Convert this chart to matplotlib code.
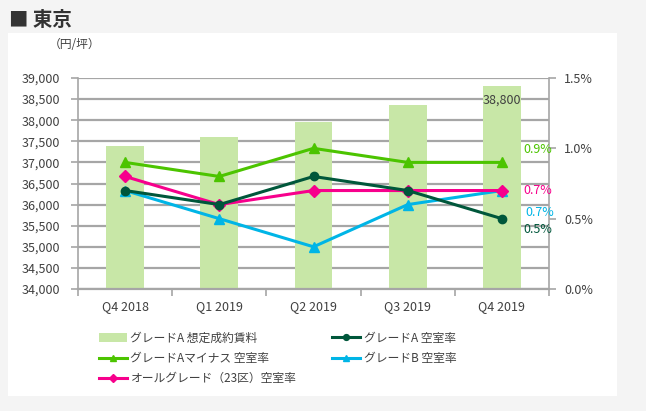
import matplotlib.pyplot as plt
from matplotlib.patches import Rectangle

plt.rcParams['font.family'] = ['Noto Sans CJK JP', 'DejaVu Sans']

# data
quarters = ["Q4 2018", "Q1 2019", "Q2 2019", "Q3 2019", "Q4 2019"]
rent_a = [37400, 37600, 37950, 38350, 38800]
vac_a = [0.7, 0.6, 0.8, 0.7, 0.5]
vac_a_minus = [0.9, 0.8, 1.0, 0.9, 0.9]
vac_b = [0.7, 0.5, 0.3, 0.6, 0.7]
vac_all = [0.8, 0.6, 0.7, 0.7, 0.7]

c_bar = "#c8e7a7"
c_a = "#00573b"
c_am = "#4cc400"
c_b = "#00b5e6"
c_all = "#f7008c"
c_grid = "#a6a6a6"
c_text = "#404040"

fig = plt.figure(figsize=(6.46, 4.11), dpi=100)
fig.patch.set_facecolor("#f4f4f4")

# white panel
fig.patches.append(Rectangle((8 / 646, 1 - 396 / 411), 609 / 646, 363 / 411,
                             transform=fig.transFigure, facecolor="white",
                             edgecolor="none", zorder=-5))

fig.text(9 / 646, 1 - 20 / 411, "■ 東京", fontsize=14, fontweight="bold",
         color="#333333", va="center", ha="left")
fig.text(75 / 646, 1 - 44 / 411, "（円/坪）", fontsize=8.5, color=c_text,
         va="center", ha="center")

ax = fig.add_axes([78 / 646, 1 - 289 / 411, 471 / 646, 211 / 411])
ax.set_facecolor("none")
x = list(range(len(quarters)))

bars = ax.bar(x, rent_a, width=0.4, color=c_bar, zorder=2,
              label="グレードA 想定成約賃料")
ax.set_ylim(34000, 39000)
ax.set_yticks(range(34000, 39001, 500))
ax.set_yticklabels([f"{v:,}" for v in range(34000, 39001, 500)])
ax.set_xlim(-0.5, 4.5)
ax.set_xticks(x)
ax.set_xticklabels(quarters)
ax.set_xticks([i - 0.5 for i in range(6)], minor=True)
ax.tick_params(axis="x", which="major", length=0, pad=8)
ax.tick_params(axis="x", which="minor", length=5, color=c_grid, width=1.2)
ax.tick_params(axis="y", length=5, color=c_grid, width=1.2, pad=8)
ax.tick_params(labelsize=9, labelcolor=c_text)
ax.grid(axis="y", color=c_grid, linewidth=1.6, zorder=1)
ax.set_axisbelow(True)
for s in ["top", "right"]:
    ax.spines[s].set_visible(False)
ax.spines["left"].set_color(c_grid)
ax.spines["left"].set_linewidth(1.2)
ax.spines["bottom"].set_color(c_grid)
ax.spines["bottom"].set_linewidth(1.6)

ax.annotate(f"{rent_a[-1]:,}", (4, rent_a[-1]), xytext=(0, -10),
            textcoords="offset points", ha="center", va="center",
            fontsize=9, color=c_text, zorder=5)

ax2 = ax.twinx()
ax2.set_ylim(0, 1.5)
ax2.set_yticks([0, 0.5, 1.0, 1.5])
ax2.set_yticklabels(["0.0%", "0.5%", "1.0%", "1.5%"])
ax2.tick_params(axis="y", length=5, color=c_grid, width=1.2, labelsize=9,
                labelcolor=c_text, pad=6)
for s in ["top", "left", "bottom"]:
    ax2.spines[s].set_visible(False)
ax2.spines["right"].set_color(c_grid)
ax2.spines["right"].set_linewidth(1.2)

l_a, = ax2.plot(x, vac_a, color=c_a, lw=2.2, marker="o", ms=6,
                label="グレードA 空室率", zorder=4)
l_am, = ax2.plot(x, vac_a_minus, color=c_am, lw=2.2, marker="^", ms=7,
                 label="グレードAマイナス 空室率", zorder=3)
l_b, = ax2.plot(x, vac_b, color=c_b, lw=2.2, marker="^", ms=7,
                label="グレードB 空室率", zorder=3)
l_all, = ax2.plot(x, vac_all, color=c_all, lw=2.2, marker="D", ms=6,
                  label="オールグレード（23区）空室率", zorder=3)

ax2.annotate(f"{vac_a_minus[-1]:.1f}%", (4, vac_a_minus[-1]), xytext=(26, 9),
             textcoords="offset points", ha="center", va="center",
             fontsize=9, color=c_am)
ax2.annotate(f"{vac_all[-1]:.1f}%", (4, vac_all[-1]), xytext=(26, 0),
             textcoords="offset points", ha="center", va="center",
             fontsize=9, color=c_all)
ax2.annotate(f"{vac_b[-1]:.1f}%", (4, vac_b[-1]), xytext=(27, -16),
             textcoords="offset points", ha="center", va="center",
             fontsize=9, color=c_b)
ax2.annotate(f"{vac_a[-1]:.1f}%", (4, vac_a[-1]), xytext=(26, -8),
             textcoords="offset points", ha="center", va="center",
             fontsize=9, color=c_a)

handles = [bars, l_am, l_all, l_a, l_b]
labels = [h.get_label() for h in handles]
fig.legend(handles, labels, ncol=2, loc="upper left",
           bbox_to_anchor=(88 / 646, 1 - 321 / 411), frameon=False,
           fontsize=8.5, handlelength=2.4, columnspacing=3.0,
           labelspacing=0.6, handletextpad=0.3, labelcolor=c_text,
           markerscale=0.7)

fig.savefig("out.png", dpi=100, facecolor=fig.get_facecolor())
